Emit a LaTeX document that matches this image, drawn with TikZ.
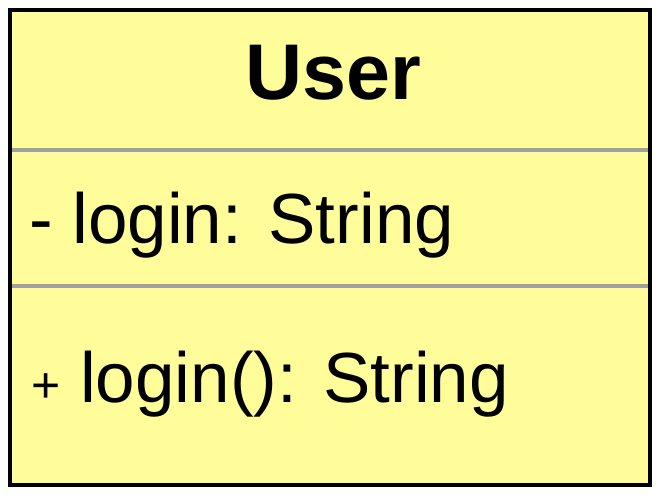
\documentclass[tikz,border=0pt]{standalone}
\usepackage{fontspec}
\setmainfont{Liberation Sans}
\definecolor{classfill}{HTML}{FFFD9A}
\definecolor{sepgray}{HTML}{A0A0A0}
\tikzset{
  classbox/.style={draw=black, line width=4pt, fill=classfill},
  sepline/.style={draw=sepgray, line width=3.5pt},
  member/.style={anchor=base west, inner sep=0pt, font=\fontsize{71}{80}\selectfont},
}
\begin{document}
\begin{tikzpicture}[x=1pt,y=-1pt]
\useasboundingbox (0,0) rectangle (658,500);
\draw[classbox] (10,10) rectangle (650,485);
\coordinate (s1l) at (12,150); \coordinate (s1r) at (648,150);
\coordinate (s2l) at (12,286); \coordinate (s2r) at (648,286);
\draw[sepline] (s1l) -- (s1r);
\draw[sepline] (s2l) -- (s2r);
\node[anchor=base, inner sep=0pt, font=\fontsize{79}{90}\selectfont\bfseries] (title) at (333,100) {User};
\node[member] (attr) at (29,243) {- login: String};
\node[member] (op) at (31,402) {{\fontsize{50}{60}\selectfont +} login(): String};
\end{tikzpicture}
\end{document}
